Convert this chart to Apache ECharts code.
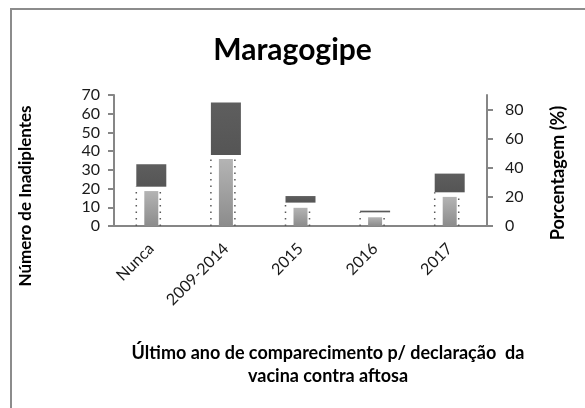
<!DOCTYPE html>
<html>
<head>
<meta charset="utf-8">
<script src="https://cdn.jsdelivr.net/npm/echarts@6/dist/echarts.min.js"></script>
<style>
  html, body { margin: 0; padding: 0; background: #fff; }
  #chart { width: 585px; height: 408px; }
</style>
</head>
<body>
<div id="chart"></div>
<script>
// dados
var categorias = ['Nunca', '2009-2014', '2015', '2016', '2017'];
var porcentagem = [24, 46, 12.5, 6, 20];      // barras claras (eixo direito)
var caixaBaixo = [21, 38, 12.5, 7.3, 18];     // base das caixas escuras (eixo esquerdo)
var caixaAlto = [33, 66, 16, 8.2, 28];        // topo das caixas escuras
var ticksEsq = [0, 10, 20, 30, 40, 50, 60, 70];
var ticksDir = [0, 20, 40, 60, 80];

var altura = caixaAlto.map(function (v, i) { return +(v - caixaBaixo[i]).toFixed(2); });

var cinza = '#868686';
var fonte = 'Lato, "Open Sans", sans-serif';
var pontilhado = { stroke: '#5a5a5a', lineWidth: 1.5, lineDash: [1.5, 5] };

// linha pontilhada vertical a partir de zero, deslocada em relação ao centro da categoria
function linhaPontilhada(dx) {
  return function (params, api) {
    var topo = api.coord([api.value(0), api.value(1)]);
    var base = api.coord([api.value(0), 0]);
    return {
      type: 'line',
      shape: { x1: topo[0] + dx, y1: base[1], x2: topo[0] + dx, y2: topo[1] },
      style: pontilhado
    };
  };
}

var chart = echarts.init(document.getElementById('chart'));

var option = {
  animation: false,
  title: {
    text: 'Maragogipe',
    left: 'center',
    top: 30,
    textStyle: { fontFamily: fonte, fontSize: 30, fontWeight: 'bold', color: '#000' }
  },
  grid: { left: 114, right: 98, top: 95, bottom: 182, outerBoundsMode: 'none' },
  xAxis: [{
    type: 'category',
    data: categorias,
    axisLine: { lineStyle: { color: cinza, width: 2 } },
    axisTick: { length: 6, lineStyle: { color: cinza, width: 2 } },
    axisLabel: { rotate: 45, margin: 20, fontFamily: fonte, fontSize: 16, color: '#1a1a1a' }
  }, {
    type: 'category',
    data: categorias,
    show: false
  }],
  yAxis: [{
    type: 'value',
    position: 'left',
    min: 0, max: 70, interval: 10,
    splitLine: { show: false },
    axisLine: { show: true, lineStyle: { color: cinza, width: 2 } },
    axisTick: { show: true, length: 6, lineStyle: { color: cinza, width: 2 }, customValues: ticksEsq },
    axisLabel: { margin: 14, fontFamily: fonte, fontSize: 16, color: '#1a1a1a', customValues: ticksEsq }
  }, {
    type: 'value',
    position: 'right',
    min: 0, max: 90, interval: 10,
    splitLine: { show: false },
    axisLine: { show: true, lineStyle: { color: cinza, width: 2 } },
    axisTick: { show: true, length: 6, lineStyle: { color: cinza, width: 2 }, customValues: ticksDir },
    axisLabel: { margin: 18, fontFamily: fonte, fontSize: 16, color: '#1a1a1a', customValues: ticksDir }
  }],
  series: [{
    name: 'base',
    type: 'bar',
    stack: 'caixa',
    xAxisIndex: 0, yAxisIndex: 0,
    barWidth: 30,
    data: caixaBaixo,
    itemStyle: { color: 'rgba(0,0,0,0)' },
    z: 2
  }, {
    name: 'caixa',
    type: 'bar',
    stack: 'caixa',
    xAxisIndex: 0, yAxisIndex: 0,
    barWidth: 30,
    data: altura,
    itemStyle: {
      color: new echarts.graphic.LinearGradient(0, 0, 0, 1, [
        { offset: 0, color: '#5e5e5e' }, { offset: 1, color: '#555555' }
      ])
    },
    z: 3
  }, {
    name: 'Porcentagem',
    type: 'bar',
    xAxisIndex: 1, yAxisIndex: 1,
    barWidth: 14,
    data: porcentagem,
    itemStyle: {
      color: new echarts.graphic.LinearGradient(0, 0, 0, 1, [
        { offset: 0, color: '#b4b4b4' }, { offset: 1, color: '#8c8c8c' }
      ])
    },
    z: 4
  }, {
    name: 'pontilhado caixa',
    type: 'custom',
    xAxisIndex: 0, yAxisIndex: 0,
    data: caixaBaixo.map(function (v, i) { return [i, v]; }),
    renderItem: linhaPontilhada(-15),
    z: 5
  }, {
    name: 'pontilhado barra',
    type: 'custom',
    xAxisIndex: 1, yAxisIndex: 1,
    data: porcentagem.map(function (v, i) { return [i, v]; }),
    renderItem: linhaPontilhada(9),
    z: 5
  }],
  graphic: [{
    type: 'rect',
    shape: { x: 11, y: 9, width: 700, height: 600 },
    style: { fill: 'none', stroke: '#8c8c8c', lineWidth: 2 },
    silent: true
  }, {
    type: 'text',
    x: 26, y: 196, rotation: Math.PI / 2,
    style: { text: 'Número de Inadiplentes', font: 'bold 17px ' + fonte, fill: '#000', align: 'center', verticalAlign: 'middle' }
  }, {
    type: 'text',
    x: 558, y: 173, rotation: Math.PI / 2,
    style: { text: 'Porcentagem (%)', font: 'bold 18px ' + fonte, fill: '#000', align: 'center', verticalAlign: 'middle' }
  }, {
    type: 'text',
    x: 328, y: 365,
    style: {
      text: 'Último ano de comparecimento p/ declaração  da\nvacina contra aftosa',
      font: 'bold 18px ' + fonte, fill: '#000', align: 'center', verticalAlign: 'middle', lineHeight: 23
    }
  }]
};

chart.setOption(option);
</script>
</body>
</html>
